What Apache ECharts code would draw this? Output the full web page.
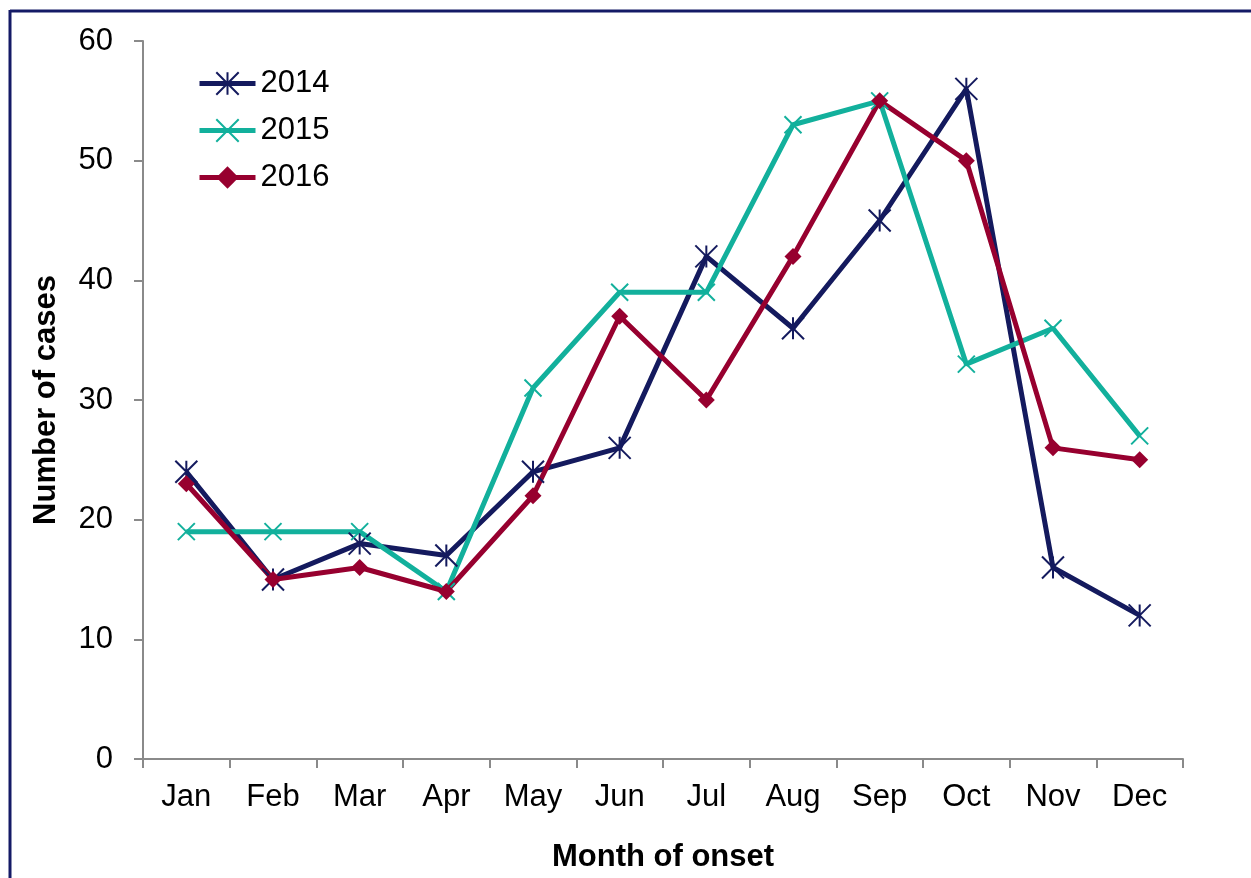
<!DOCTYPE html>
<html>
<head>
<meta charset="utf-8">
<script src="https://cdn.jsdelivr.net/npm/echarts@6/dist/echarts.min.js"></script>
<style>
html,body{margin:0;padding:0;background:#fff;}
#chart{width:1251px;height:878px;}
</style>
</head>
<body>
<div id="chart"></div>
<script>
const months = ['Jan','Feb','Mar','Apr','May','Jun','Jul','Aug','Sep','Oct','Nov','Dec'];
const cases2014 = [24,15,18,17,24,26,42,36,45,56,16,12];
const cases2015 = [19,19,19,14,31,39,39,53,55,33,36,27];
const cases2016 = [23,15,16,14,22,37,30,42,55,50,26,25];
const yTicks = {min:0, max:60, interval:10};

const FONT = '"Liberation Sans", Arial, sans-serif';
const C14 = '#141a5e', C15 = '#12b09c', C16 = '#97002f';
const AXIS = '#8a8a8a';
const LW = 5;

const chart = echarts.init(document.getElementById('chart'), null, {renderer:'canvas'});
chart.setOption({
  animation:false,
  backgroundColor:'#fff',
  textStyle:{fontFamily:FONT},
  graphic:[
    {type:'line', shape:{x1:10,y1:11,x2:1251,y2:11}, style:{stroke:'#141a66', lineWidth:3}, silent:true},
    {type:'line', shape:{x1:10,y1:10,x2:10,y2:878}, style:{stroke:'#141a66', lineWidth:3}, silent:true}
  ],
  grid:{left:143, right:68, top:41, bottom:115, containLabel:false},
  legend:{
    orient:'vertical', left:197, top:68, padding:0,
    itemWidth:56, itemHeight:28, itemGap:16,
    textStyle:{fontFamily:FONT, fontSize:31, color:'#000'},
    data:[
      {name:'2014', lineStyle:{width:LW}},
      {name:'2015', lineStyle:{width:LW}},
      {name:'2016', lineStyle:{width:LW}}
    ]
  },
  xAxis:{
    type:'category', data:months, boundaryGap:true,
    name:'Month of onset', nameLocation:'middle', nameGap:83,
    nameTextStyle:{fontFamily:FONT, fontSize:31, fontWeight:'bold', color:'#000'},
    axisLine:{lineStyle:{color:AXIS, width:2}},
    axisTick:{show:true, length:9, lineStyle:{color:AXIS, width:2}},
    axisLabel:{fontFamily:FONT, fontSize:31, color:'#000', margin:23},
    splitLine:{show:false}
  },
  yAxis:{
    type:'value', min:yTicks.min, max:yTicks.max, interval:yTicks.interval,
    name:'Number of cases', nameLocation:'middle', nameGap:81,
    nameTextStyle:{fontFamily:FONT, fontSize:31, fontWeight:'bold', color:'#000'},
    axisLine:{show:true, lineStyle:{color:AXIS, width:2}},
    axisTick:{show:true, length:9, lineStyle:{color:AXIS, width:2}},
    axisLabel:{fontFamily:FONT, fontSize:31, color:'#000', margin:30},
    splitLine:{show:false}
  },
  series:[
    {
      name:'2014', type:'line', data:cases2014,
      symbol:'path://M0 0 L20 20 M20 0 L0 20 M10 0 L10 20', symbolSize:22,
      lineStyle:{color:C14, width:LW},
      itemStyle:{color:C14, borderColor:C14, borderWidth:2}
    },
    {
      name:'2015', type:'line', data:cases2015,
      symbol:'path://M0 0 L20 20 M20 0 L0 20', symbolSize:17,
      lineStyle:{color:C15, width:LW},
      itemStyle:{color:C15, borderColor:C15, borderWidth:2}
    },
    {
      name:'2016', type:'line', data:cases2016,
      symbol:'diamond', symbolSize:17,
      lineStyle:{color:C16, width:LW},
      itemStyle:{color:C16, borderColor:C16, borderWidth:0}
    }
  ]
});
</script>
</body>
</html>
